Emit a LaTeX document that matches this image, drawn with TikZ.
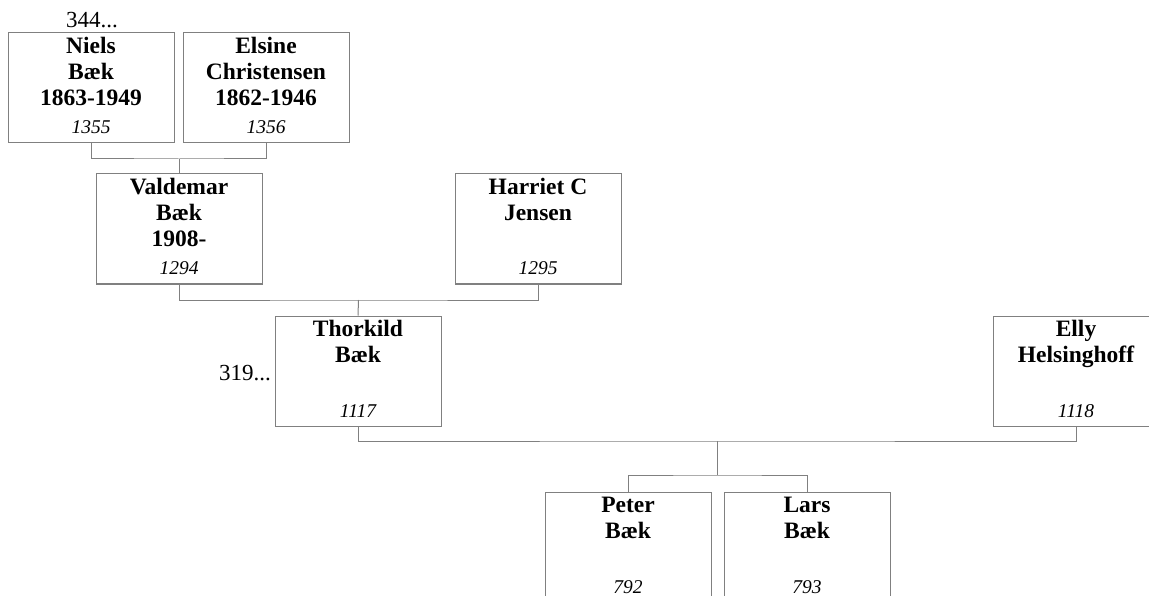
\documentclass[tikz,border=0pt]{standalone}
\usepackage{fontspec}
\setmainfont{Liberation Serif}
\tikzset{
  pbox/.style={draw=black!50, line width=1pt, fill=white, minimum width=166pt, minimum height=110pt, inner sep=0pt},
  pname/.style={anchor=north, inner sep=0pt, align=center, font=\fontsize{23.5}{26}\selectfont\bfseries},
  pnum/.style={anchor=base, inner sep=0pt, font=\fontsize{19.5}{22}\selectfont\itshape},
  pmore/.style={inner sep=0pt, font=\fontsize{23}{26}\selectfont},
  link/.style={draw=black!50, line width=1pt}
}
\newcommand\person[5]{%
  \node[pbox] (#1) at (#2,#3) {};
  \node[pname] (#1name) at ([yshift=-2.8pt]#1.north) {\strut#4};
  \node[pnum] (#1num) at ([yshift=9.5pt]#1.south) {#5};
}
\begin{document}
\begin{tikzpicture}[x=1pt,y=-1pt]
\clip (0,0) rectangle (1149,596);
\fill[white] (0,0) rectangle (1149,596);
\person{niels}{91}{88}{Niels\\Bæk\\1863-1949}{1355}
\person{elsine}{266}{88}{Elsine\\Christensen\\1862-1946}{1356}
\person{valdemar}{179}{229}{Valdemar\\Bæk\\1908-}{1294}
\person{harriet}{538}{229}{Harriet C\\Jensen}{1295}
\person{thorkild}{358}{371}{Thorkild\\Bæk}{1117}
\person{elly}{1076}{371}{Elly\\Helsinghoff}{1118}
\person{peter}{628}{547}{Peter\\Bæk}{792}
\person{lars}{807}{547}{Lars\\Bæk}{793}
\node[pmore, anchor=base] (more1) at (92,28) {344...};
\node[pmore, anchor=base east] (more2) at (271,380) {319...};
\coordinate (fam1) at (179,159);
\coordinate (fam2) at (358.5,300);
\coordinate (fam3) at (717,441);
\coordinate (kids) at (717,475);
\draw[link] (niels.south) |- (fam1) -| (elsine.south);
\draw[link] (fam1) -- (valdemar.north);
\draw[link] (valdemar.south) |- (fam2) -| (harriet.south);
\draw[link] (fam2) -- (thorkild.north);
\draw[link] (thorkild.south) |- (fam3) -| (elly.south);
\draw[link] (fam3) -- (kids);
\draw[link] (peter.north) |- (kids) -| (lars.north);
\end{tikzpicture}
\end{document}
